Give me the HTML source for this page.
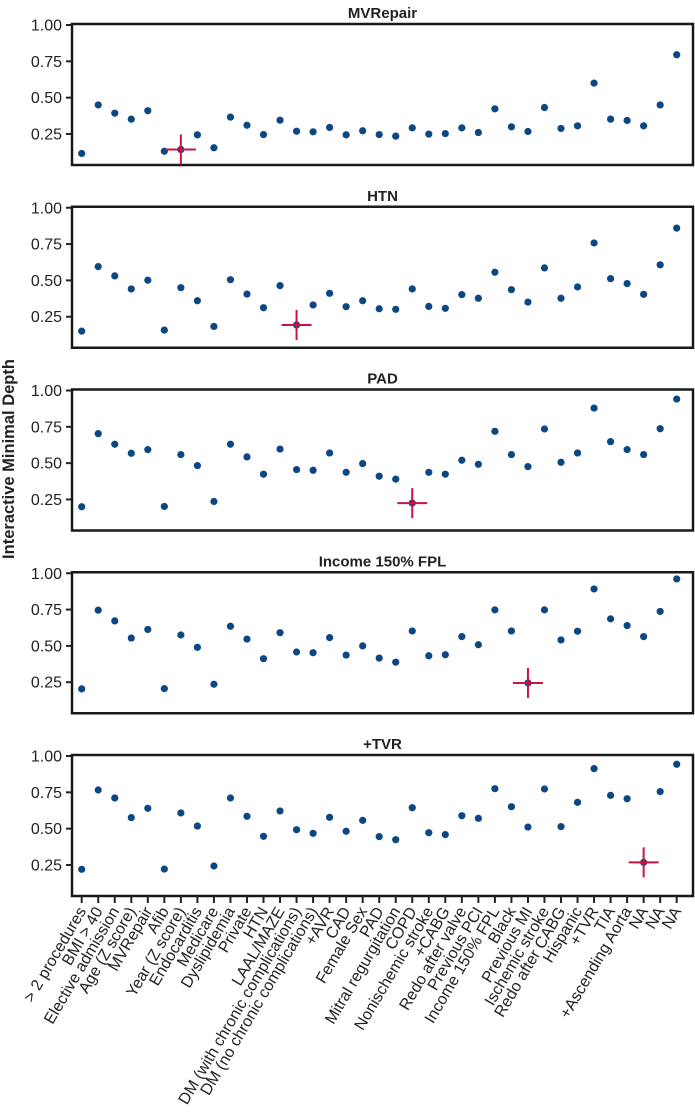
<!DOCTYPE html>
<html><head><meta charset="utf-8"><style>
body{margin:0;background:#fff;}
svg text{font-family:"Liberation Sans",sans-serif;fill:#222;}
</style></head><body>
<svg id="chart" width="695" height="1115" viewBox="0 0 695 1115" xmlns="http://www.w3.org/2000/svg"></svg>
<script>
const categories = ["> 2 procedures","BMI > 40","Elective admission","Age (Z score)","MVRepair","Afib","Year (Z score)","Endocarditis","Medicare","Dyslipidemia","Private","HTN","LAAL/MAZE","DM (with chronic complications)","DM (no chronic complications)","+AVR","CAD","Female Sex","PAD","Mitral regurgitation","COPD","Nonischemic stroke","+CABG","Redo after valve","Previous PCI","Income 150% FPL","Black","Previous MI","Ischemic stroke","Redo after CABG","Hispanic","+TVR","TIA","+Ascending Aorta","NA","NA","NA"];
const panelTitles = ["MVRepair","HTN","PAD","Income 150% FPL","+TVR"];
const highlightIndex = [6,13,20,27,34];
const yTicks = [0.25,0.5,0.75,1.0];
const yTickLabels = ["0.25","0.50","0.75","1.00"];
const seriesMVRepair = [0.116,0.45,0.393,0.352,0.41,0.131,0.143,0.244,0.155,0.366,0.31,0.246,0.345,0.269,0.265,0.295,0.244,0.272,0.246,0.235,0.292,0.249,0.253,0.292,0.26,0.423,0.299,0.267,0.432,0.288,0.306,0.6,0.352,0.343,0.306,0.45,0.795];
const seriesHTN = [0.151,0.595,0.531,0.441,0.501,0.158,0.45,0.36,0.183,0.505,0.406,0.312,0.464,0.193,0.331,0.411,0.319,0.36,0.305,0.301,0.441,0.321,0.308,0.402,0.377,0.556,0.436,0.351,0.586,0.377,0.455,0.758,0.512,0.478,0.404,0.607,0.86];
const seriesPAD = [0.200,0.703,0.630,0.568,0.593,0.202,0.559,0.483,0.236,0.630,0.543,0.424,0.597,0.456,0.451,0.570,0.437,0.497,0.410,0.390,0.225,0.437,0.424,0.520,0.492,0.719,0.559,0.476,0.735,0.506,0.570,0.879,0.648,0.593,0.559,0.737,0.941];
const seriesIncome = [0.204,0.746,0.672,0.554,0.613,0.206,0.575,0.490,0.236,0.635,0.547,0.412,0.591,0.458,0.453,0.557,0.437,0.500,0.416,0.388,0.603,0.432,0.439,0.564,0.508,0.748,0.603,0.245,0.748,0.541,0.601,0.892,0.686,0.640,0.564,0.737,0.961];
const seriesTVR = [0.220,0.766,0.711,0.576,0.640,0.222,0.608,0.518,0.243,0.711,0.585,0.447,0.622,0.493,0.468,0.578,0.482,0.557,0.445,0.424,0.644,0.472,0.459,0.589,0.571,0.775,0.651,0.511,0.773,0.514,0.681,0.913,0.729,0.706,0.268,0.755,0.943];
const allSeries = [seriesMVRepair,seriesHTN,seriesPAD,seriesIncome,seriesTVR];

const NS="http://www.w3.org/2000/svg";
const svg=document.getElementById('chart');
function mk(tag,attrs,parent){const e=document.createElementNS(NS,tag);for(const k in attrs)e.setAttribute(k,attrs[k]);(parent||svg).appendChild(e);return e;}
const left=72,right=693,x0=81.7,x1=676.7;
function xScale(i){return x0+i*(x1-x0)/(categories.length-1);}
const unit=145.3;
allSeries.forEach((series,p)=>{
  const top=24+182.75*p, bottom=top+141;
  const yScale=v=>top+1+(1-v)*unit;
  const g=mk('g',{});
  
  
  const t=mk('text',{x:(left+right)/2,y:top-6,'text-anchor':'middle','font-size':'15','font-weight':'bold'},g);
  t.textContent=panelTitles[p];
  
  
  yTicks.forEach((v,k)=>{
    const y=yScale(v);
    const tk=mk('line',{x1:left-6,x2:left,y1:y,y2:y,stroke:'#222','stroke-width':2},g);
    
    
    const tl=mk('text',{x:left-10,y:y+5.5,'text-anchor':'end','font-size':'16'},g);
    tl.textContent=yTickLabels[k];
    
    
  });
  const fr=mk('rect',{x:left,y:top,width:right-left,height:bottom-top,fill:'none',stroke:'#1a1a1a','stroke-width':2.5},g);
  
  
  series.forEach((v,i)=>{
    const c=mk('circle',{cx:xScale(i),cy:yScale(v),r:3.6,fill:'#0b4783'},g);
    
    
  });
  const h=highlightIndex[p], hx=xScale(h), hy=yScale(series[h]);
  const m=mk('g',{},g);
  
  
  mk('line',{x1:hx-15,x2:hx+15,y1:hy,y2:hy,stroke:'#d01040','stroke-width':2},m);
  mk('line',{x1:hx,x2:hx,y1:hy-15,y2:hy+15,stroke:'#d01040','stroke-width':2},m);
  if(p===allSeries.length-1){
    categories.forEach((c,i)=>{
      const x=xScale(i);
      const tk=mk('line',{x1:x,x2:x,y1:bottom,y2:bottom+7,stroke:'#222','stroke-width':2},g);
      
      
      const tl=mk('text',{x:x+5,y:bottom+15,'text-anchor':'end','font-size':'16',transform:`rotate(-59.5 ${x+5} ${bottom+15})`},g);
      tl.textContent=c;
      
      
    });
  }
});
const yt=mk('text',{x:14,y:459,'text-anchor':'middle','font-size':'16.5','font-weight':'bold',transform:'rotate(-90 14 459)'});
yt.textContent='Interactive Minimal Depth';


</script>
</body></html>
